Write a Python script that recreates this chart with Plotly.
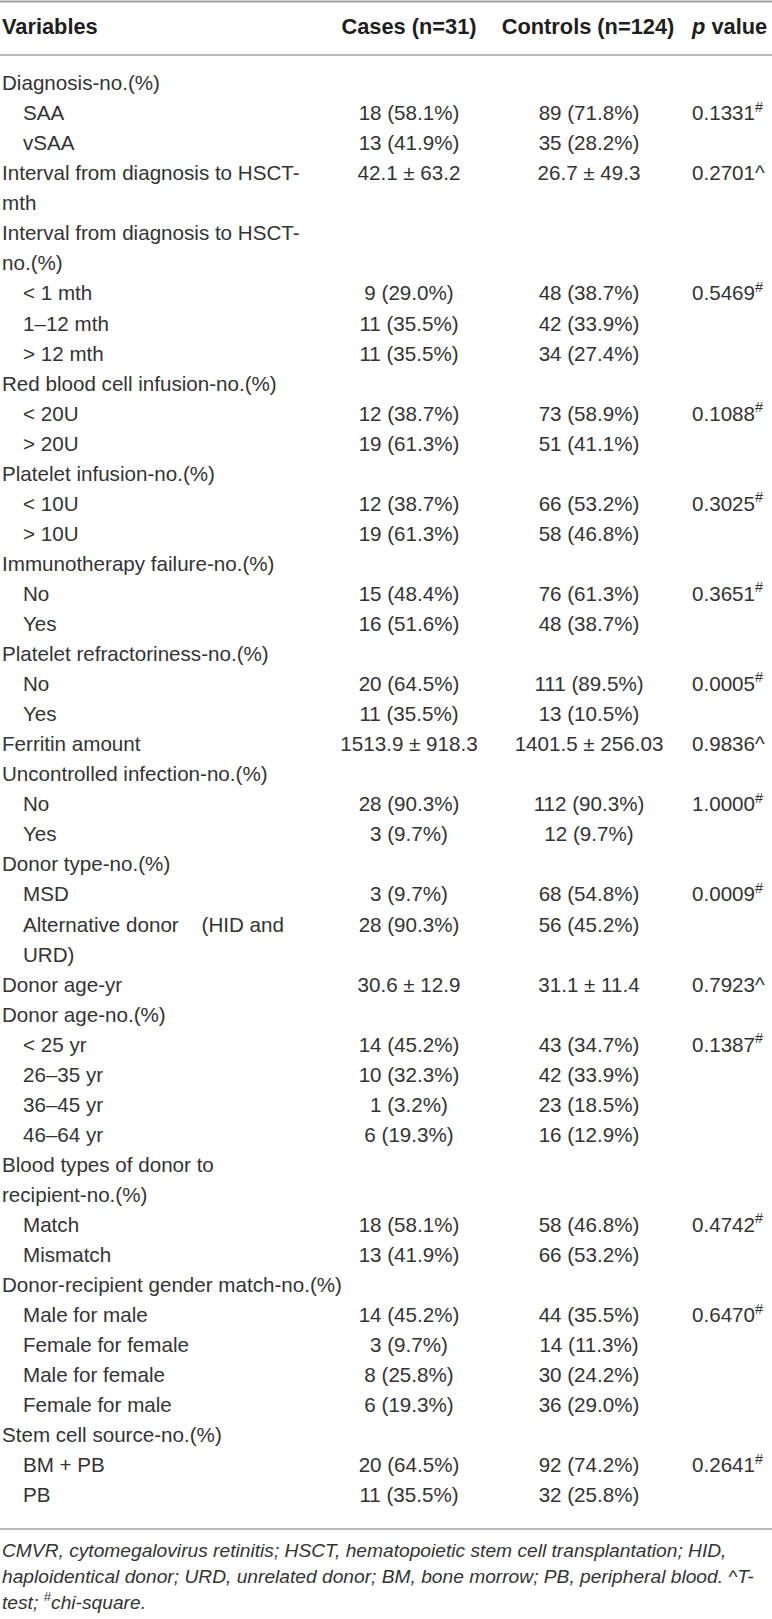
import plotly.graph_objects as go

# ---- table data (one entry per printed text line) ----
labels = [
    "Diagnosis-no.(%)", "SAA", "vSAA",
    "Interval from diagnosis to HSCT-", "mth",
    "Interval from diagnosis to HSCT-", "no.(%)",
    "< 1 mth", "1–12 mth", "> 12 mth",
    "Red blood cell infusion-no.(%)", "< 20U", "> 20U",
    "Platelet infusion-no.(%)", "< 10U", "> 10U",
    "Immunotherapy failure-no.(%)", "No", "Yes",
    "Platelet refractoriness-no.(%)", "No", "Yes",
    "Ferritin amount",
    "Uncontrolled infection-no.(%)", "No", "Yes",
    "Donor type-no.(%)", "MSD", "Alternative donor\u00a0\u00a0\u00a0\u00a0(HID and", "URD)",
    "Donor age-yr",
    "Donor age-no.(%)", "< 25 yr", "26–35 yr", "36–45 yr", "46–64 yr",
    "Blood types of donor to", "recipient-no.(%)", "Match", "Mismatch",
    "Donor-recipient gender match-no.(%)", "Male for male", "Female for female",
    "Male for female", "Female for male",
    "Stem cell source-no.(%)", "BM + PB", "PB",
]
indented = [
    0, 1, 1, 0, 0, 0, 0, 1, 1, 1, 0, 1, 1, 0, 1, 1, 0, 1, 1, 0, 1, 1, 0, 0, 1, 1,
    0, 1, 1, 1, 0, 0, 1, 1, 1, 1, 0, 0, 1, 1, 0, 1, 1, 1, 1, 0, 1, 1,
]
cases = [
    "", "18 (58.1%)", "13 (41.9%)", "42.1 ± 63.2", "", "", "",
    "9 (29.0%)", "11 (35.5%)", "11 (35.5%)", "", "12 (38.7%)", "19 (61.3%)",
    "", "12 (38.7%)", "19 (61.3%)", "", "15 (48.4%)", "16 (51.6%)",
    "", "20 (64.5%)", "11 (35.5%)", "1513.9 ± 918.3", "", "28 (90.3%)", "3 (9.7%)",
    "", "3 (9.7%)", "28 (90.3%)", "", "30.6 ± 12.9", "",
    "14 (45.2%)", "10 (32.3%)", "1 (3.2%)", "6 (19.3%)", "", "",
    "18 (58.1%)", "13 (41.9%)", "", "14 (45.2%)", "3 (9.7%)", "8 (25.8%)",
    "6 (19.3%)", "", "20 (64.5%)", "11 (35.5%)",
]
controls = [
    "", "89 (71.8%)", "35 (28.2%)", "26.7 ± 49.3", "", "", "",
    "48 (38.7%)", "42 (33.9%)", "34 (27.4%)", "", "73 (58.9%)", "51 (41.1%)",
    "", "66 (53.2%)", "58 (46.8%)", "", "76 (61.3%)", "48 (38.7%)",
    "", "111 (89.5%)", "13 (10.5%)", "1401.5 ± 256.03", "", "112 (90.3%)", "12 (9.7%)",
    "", "68 (54.8%)", "56 (45.2%)", "", "31.1 ± 11.4", "",
    "43 (34.7%)", "42 (33.9%)", "23 (18.5%)", "16 (12.9%)", "", "",
    "58 (46.8%)", "66 (53.2%)", "", "44 (35.5%)", "14 (11.3%)", "30 (24.2%)",
    "36 (29.0%)", "", "92 (74.2%)", "32 (25.8%)",
]
pvalues = [
    "", "0.1331#", "", "0.2701^", "", "", "", "0.5469#", "", "", "", "0.1088#", "",
    "", "0.3025#", "", "", "0.3651#", "", "", "0.0005#", "", "0.9836^", "",
    "1.0000#", "", "", "0.0009#", "", "", "0.7923^", "", "0.1387#", "", "", "",
    "", "", "0.4742#", "", "", "0.6470#", "", "", "", "", "0.2641#", "",
]
headers = ["<b>Variables</b>", "<b>Cases (n=31)</b>", "<b>Controls (n=124)</b>",
           "<b><i>p</i> value</b>"]
footnote = [
    "CMVR, cytomegalovirus retinitis; HSCT, hematopoietic stem cell transplantation; HID,",
    "haploidentical donor; URD, unrelated donor; BM, bone morrow; PB, peripheral blood. ^T-",
    "test; <sup>#</sup>chi-square.",
]

W, H = 772, 1619
ROW = 30.05         # px per text line
Y0 = 85.0           # px of first body line
FONT = "Liberation Sans"
INK = "#333333"


def ry(px):
    # pixel row -> table line units
    return (px - Y0) / ROW


def column(xs, texts, pos, font):
    keep = [i for i, t in enumerate(texts) if t]
    return go.Scatter(
        x=[xs[i] for i in keep], y=keep, text=[texts[i] for i in keep],
        mode="text", textposition=pos, textfont=font,
        hoverinfo="skip", cliponaxis=False)


n = len(labels)
p_text = [p.replace("#", "<sup>#</sup>") for p in pvalues]
body = dict(family=FONT, size=20.6, color=INK)

fig = go.Figure()
fig.add_trace(column([23 if i else 2 for i in indented], labels, "middle right", body))
fig.add_trace(column([409] * n, cases, "middle center", body))
fig.add_trace(column([589] * n, controls, "middle center", body))
fig.add_trace(column([692] * n, p_text, "middle right", body))

# header row
fig.add_trace(go.Scatter(
    x=[2, 409, 588, 692], y=[ry(29)] * 4, text=headers, mode="text",
    textposition=["middle right", "middle center", "middle center", "middle right"],
    textfont=dict(family=FONT, size=21.8, color="#1e1e1e"),
    hoverinfo="skip", cliponaxis=False))

# footnote
fig.add_trace(go.Scatter(
    x=[2, 2, 2], y=[ry(1552), ry(1578), ry(1604)],
    text=["<i>%s</i>" % t for t in footnote], mode="text",
    textposition="middle right", textfont=dict(family=FONT, size=19.2, color=INK),
    hoverinfo="skip", cliponaxis=False))

for py, lw in [(1.5, 2), (55, 1.5), (1529, 1.5)]:
    fig.add_shape(type="line", xref="paper", x0=0, x1=1, yref="y", y0=ry(py), y1=ry(py),
                  line=dict(color="#a0a0a0", width=lw))

fig.update_xaxes(range=[0, W], visible=False, fixedrange=True)
fig.update_yaxes(range=[ry(H), ry(0)], visible=False, fixedrange=True)
fig.update_layout(width=W, height=H, margin=dict(l=0, r=0, t=0, b=0),
                  paper_bgcolor="white", plot_bgcolor="white", showlegend=False)

# page body margin would shift the table by 8px and add a scrollbar
fig.write_html("out.html", config={"displayModeBar": False},
               post_script="document.body.style.margin='0';"
                           "document.body.style.overflow='hidden';")
